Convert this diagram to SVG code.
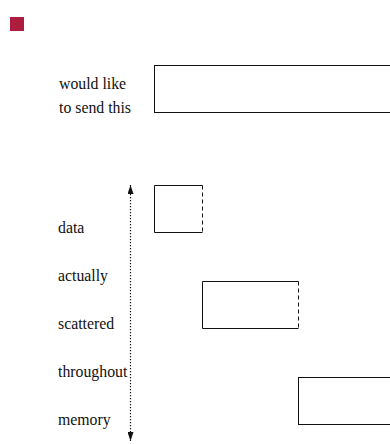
<svg xmlns="http://www.w3.org/2000/svg" width="390" height="444" viewBox="0 0 390 444">
<style>
text{font-family:'Liberation Serif','DejaVu Serif',serif;font-size:15.8px;fill:#111}
.box{fill:none;stroke:#111;stroke-width:1}
.dash{fill:none;stroke:#111;stroke-width:1;stroke-dasharray:4,3}
.axis{fill:none;stroke:#111;stroke-width:1.2;stroke-dasharray:1.2,1.8}
</style>
<defs>
<marker id="ah" viewBox="0 0 9 6" refX="9" refY="3" markerWidth="9" markerHeight="6" orient="auto-start-reverse" markerUnits="userSpaceOnUse">
<path d="M0,0 L9,3 L0,6 Z" fill="#111"/>
</marker>
</defs>
<rect id="legend" x="10" y="17" width="14" height="14" fill="#AD1E3E"/>
<g id="send">
<rect class="box" x="154.5" y="65.5" width="250" height="47"/>
<text x="59" y="89">would like</text>
<text x="59" y="113">to send this</text>
</g>
<g id="labels">
<text x="58" y="233">data</text>
<text x="58" y="281">actually</text>
<text x="58" y="329">scattered</text>
<text x="58" y="377">throughout</text>
<text x="58" y="425">memory</text>
</g>
<g id="block1">
<path class="box" d="M202.5,185.5 H154.5 V232.5 H202.5"/>
<path class="dash" d="M202.5,185.5 V232.5"/>
</g>
<g id="block2">
<path class="box" d="M298.5,281.5 H202.5 V328.5 H298.5"/>
<path class="dash" d="M298.5,281.5 V328.5"/>
</g>
<g id="block3">
<rect class="box" x="298.5" y="377.5" width="100" height="47"/>
</g>
<g id="connectors">
<line class="axis" x1="130.5" y1="185" x2="130.5" y2="441" marker-start="url(#ah)" marker-end="url(#ah)"/>
</g>
</svg>
